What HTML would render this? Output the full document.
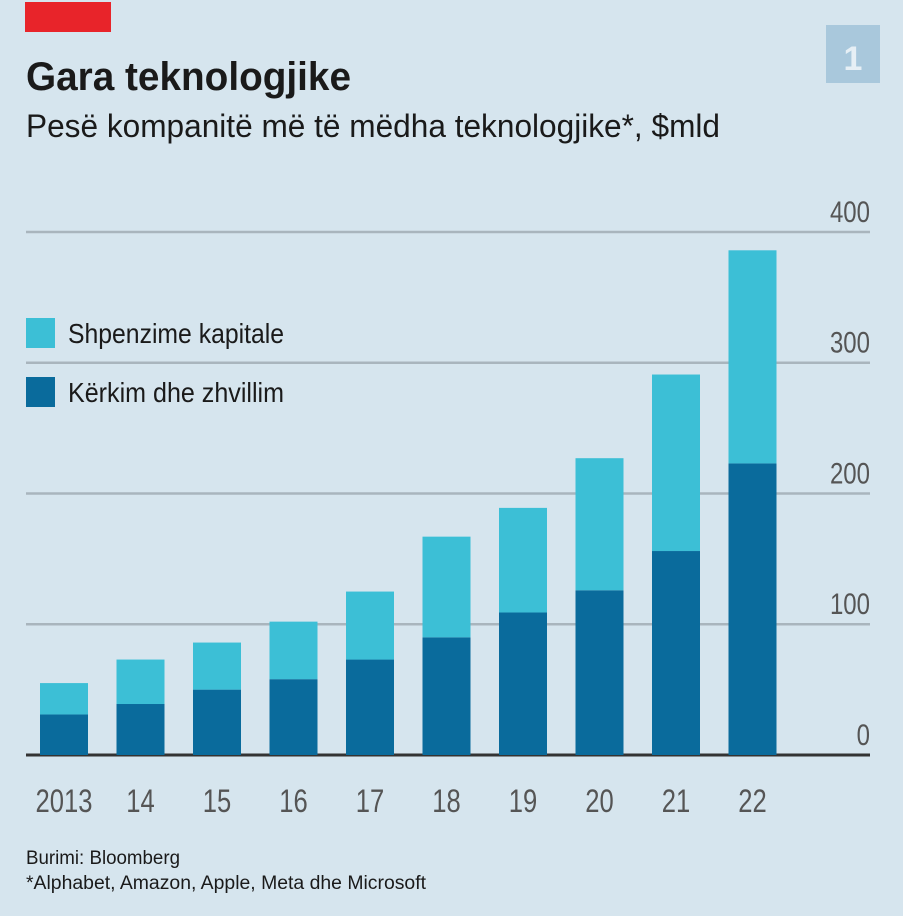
<!DOCTYPE html>
<html><head><meta charset="utf-8"><style>
html,body{margin:0;padding:0;background:#d6e5ee;}
svg{display:block;font-family:"Liberation Sans",sans-serif;}
</style></head><body>
<svg width="903" height="916" viewBox="0 0 903 916">
<rect x="0" y="0" width="903" height="916" fill="#d6e5ee"/>
<rect x="25" y="2" width="86" height="30" fill="#e8242a"/>
<rect x="826" y="25" width="54" height="58" fill="#a9c8dc"/>
<text x="853" y="70" font-size="34" font-weight="bold" fill="#e6eff5" text-anchor="middle">1</text>
<text x="26" y="90" font-size="40" font-weight="bold" fill="#1a1a1a" textLength="325" lengthAdjust="spacingAndGlyphs">Gara teknologjike</text>
<text x="26" y="137" font-size="32" fill="#1a1a1a" textLength="694" lengthAdjust="spacingAndGlyphs">Pesë kompanitë më të mëdha teknologjike*, $mld</text>
<g id="grid"></g>
<g id="bars"></g>
<g id="xlabels"></g>
<rect x="26" y="318" width="29" height="30" fill="#3cbfd6"/>
<text x="68" y="343" font-size="28" fill="#1a1a1a" textLength="216" lengthAdjust="spacingAndGlyphs">Shpenzime kapitale</text>
<rect x="26" y="377" width="29" height="30" fill="#0a6b9c"/>
<text x="68" y="402" font-size="28" fill="#1a1a1a" textLength="216" lengthAdjust="spacingAndGlyphs">Kërkim dhe zhvillim</text>
<text x="26" y="864" font-size="19" fill="#1a1a1a" textLength="154" lengthAdjust="spacingAndGlyphs">Burimi: Bloomberg</text>
<text x="26" y="889" font-size="19" fill="#1a1a1a" textLength="400" lengthAdjust="spacingAndGlyphs">*Alphabet, Amazon, Apple, Meta dhe Microsoft</text>
</svg>
<script>
const categories=["2013","14","15","16","17","18","19","20","21","22"];
const rdValues=[31,39,50,58,73,90,109,126,156,223];
const capexValues=[24,34,36,44,52,77,80,101,135,163];
const yTicks=[0,100,200,300,400];
const NS="http://www.w3.org/2000/svg";
function y(v){return 755-v*1.3075;}
function xc(i){return 64+i*76.5;}
const grid=document.getElementById('grid');
yTicks.forEach(t=>{
  const l=document.createElementNS(NS,'line');
  l.setAttribute('x1',26);l.setAttribute('x2',870);
  l.setAttribute('y1',y(t));l.setAttribute('y2',y(t));
  l.setAttribute('stroke',t===0?'#333':'#a9b5bd');l.setAttribute('stroke-width',t===0?3:2.5);
  
  
  grid.appendChild(l);
  const tx=document.createElementNS(NS,'text');
  tx.setAttribute('x',870);tx.setAttribute('y',y(t)-10);
  tx.setAttribute('text-anchor','end');tx.setAttribute('font-size','30');tx.setAttribute('fill','#555');
  tx.setAttribute('transform','translate(870,0) scale(0.8,1) translate(-870,0)');
  tx.textContent=t;
  
  
  grid.appendChild(tx);
});
const bars=document.getElementById('bars');
const xl=document.getElementById('xlabels');
const bw=48;
categories.forEach((c,i)=>{
  const r=document.createElementNS(NS,'rect');
  r.setAttribute('x',xc(i)-bw/2);r.setAttribute('width',bw);
  r.setAttribute('y',y(rdValues[i]));r.setAttribute('height',y(0)-y(rdValues[i]));
  r.setAttribute('fill','#0a6b9c');
  
  
  bars.appendChild(r);
  const top=rdValues[i]+capexValues[i];
  const r2=document.createElementNS(NS,'rect');
  r2.setAttribute('x',xc(i)-bw/2);r2.setAttribute('width',bw);
  r2.setAttribute('y',y(top));r2.setAttribute('height',y(rdValues[i])-y(top));
  r2.setAttribute('fill','#3cbfd6');
  
  
  bars.appendChild(r2);
  const t=document.createElementNS(NS,'text');
  const cx=xc(i);
  t.setAttribute('x',cx);t.setAttribute('y',812);
  t.setAttribute('text-anchor','middle');t.setAttribute('font-size','32');t.setAttribute('fill','#555');
  t.setAttribute('transform','translate('+cx+',0) scale(0.8,1) translate('+(-cx)+',0)');
  t.textContent=c;
  
  
  xl.appendChild(t);
});
</script>
</body></html>
